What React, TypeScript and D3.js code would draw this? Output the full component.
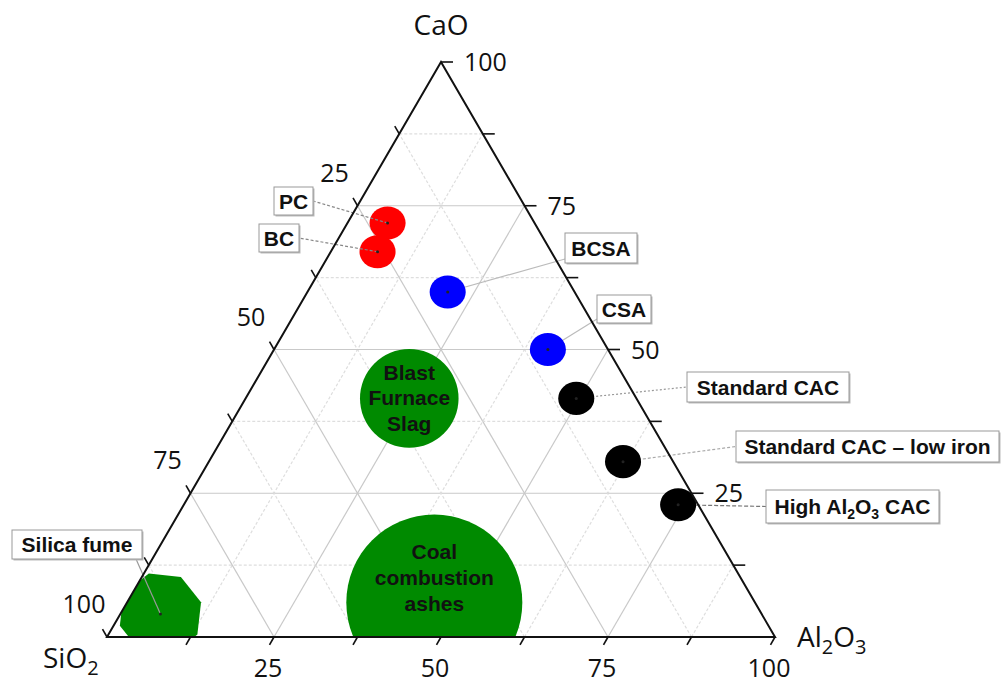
import React from "react";
import * as d3 from "d3";

// ternary compositions (wt%)
const materials = [
  "PC",
  "BC",
  "BCSA",
  "CSA",
  "Standard CAC",
  "Standard CAC – low iron",
  "High Al2O3 CAC",
  "Blast Furnace Slag",
  "Coal combustion ashes",
  "Silica fume",
];
const sio2 = [22, 26, 19, 9, 9, 7.5, 3, 34, 48, 90];
const al2o3 = [6, 7, 21, 41, 49.5, 62, 74, 24.5, 46, 6];
const cao = [72, 67, 60, 50, 41.5, 30.5, 23, 41.5, 6, 4];
const bubbleSize = [20.5, 20.5, 20.5, 20.5, 20.5, 20.5, 20.5, 56, 100, 48];
const fills = ["#ff0000", "#ff0000", "#0000ff", "#0000ff", "#000", "#000", "#000", "#008a00", "#008a00", "#008a00"];

const majorTicks = [25, 50, 75, 100];
const minorTicks = [12.5, 37.5, 62.5, 87.5];
const gridValues = [12.5, 25, 37.5, 50, 62.5, 75, 87.5];

// label boxes: [x, y, w, h], leader style
const callouts = [
  { i: 0, box: [274, 187, 39, 28], dash: "3,2", stroke: "#888", over: true },
  { i: 1, box: [259, 224, 40, 28], dash: "3,2", stroke: "#888", over: true },
  { i: 2, box: [565, 233, 72, 30], dash: null, stroke: "#bbb", over: false, corner: true },
  { i: 3, box: [597, 295, 54, 28], dash: null, stroke: "#bbb", over: false, corner: true },
  { i: 4, box: [687, 372, 162, 30], dash: "2,2", stroke: "#999", over: false },
  { i: 5, box: [736, 431, 263, 31], dash: "3,2", stroke: "#aaa", over: false },
  { i: 6, box: [766, 490, 173, 33], dash: "4,2", stroke: "#777", over: false },
  { i: 9, box: [12, 530, 130, 29], dash: null, stroke: "#999", over: true, bottom: true },
];

const x = d3.scaleLinear().domain([0, 100]).range([107, 775]);
const y = d3.scaleLinear().domain([0, 100]).range([637, 62]);
const r = d3.scaleLinear().domain([0, 100]).range([0, 88]);

const pt = (si: number, al: number, ca: number): [number, number] => {
  const s = si + al + ca;
  const a = (al / s) * 100;
  const c = (ca / s) * 100;
  return [x(a + c / 2), y(c)];
};

const tri = [pt(100, 0, 0), pt(0, 100, 0), pt(0, 0, 100)];
const line = d3.line();

const tickFont = "'Open Sans', sans-serif";
const boxFont = "'Liberation Sans', Arial, sans-serif";

function LabelText({ name }: { name: string }) {
  if (name.includes("Al2O3")) {
    const [a, b] = name.split("Al2O3");
    return (
      <>
        {a}Al<tspan fontSize={14} dy={5}>2</tspan>
        <tspan dy={-5}>O</tspan>
        <tspan fontSize={14} dy={5}>3</tspan>
        <tspan dy={-5}>{b}</tspan>
      </>
    );
  }
  return <>{name}</>;
}

export default function App() {
  const grid: { d: string; major: boolean }[] = [];
  gridValues.forEach((v) => {
    const major = v % 25 === 0;
    grid.push({ d: line([pt(100 - v, 0, v), pt(0, 100 - v, v)])!, major });
    grid.push({ d: line([pt(100 - v, v, 0), pt(0, v, 100 - v)])!, major });
    grid.push({ d: line([pt(v, 100 - v, 0), pt(v, 0, 100 - v)])!, major });
  });

  const ticks: string[] = [];
  [...majorTicks, ...minorTicks].forEach((v) => {
    const len = 9;
    const [bx, by] = pt(100 - v, v, 0);
    ticks.push(line([[bx, by], [bx - len * 0.5, by + len * 0.866]])!);
    const [rx, ry] = pt(0, 100 - v, v);
    ticks.push(line([[rx, ry], [rx + 12, ry]])!);
    const [lx, ly] = pt(v, 0, 100 - v);
    ticks.push(line([[lx, ly], [lx - len * 0.5, ly - len * 0.866]])!);
  });

  const centers = materials.map((_, i) => pt(sio2[i], al2o3[i], cao[i]));

  const leader = (c: (typeof callouts)[number]) => {
    const [bx, by, bw, bh] = c.box;
    const [cx, cy] = centers[c.i];
    let end: [number, number];
    if (c.bottom) end = [bx + bw - 6, by + bh];
    else if (c.corner) end = [bx, by + bh - 4];
    else if (cx < bx) end = [bx, by + bh / 2];
    else end = [bx + bw, by + bh / 2];
    return (
      <line
        key={"l" + c.i}
        x1={cx}
        y1={cy}
        x2={end[0]}
        y2={end[1]}
        stroke={c.stroke}
        strokeWidth={1.2}
        strokeDasharray={c.dash ?? undefined}
      />
    );
  };

  // silica fume drawn as a coarse polygon like the original
  const sfIdx = 9;
  const sfR = r(bubbleSize[sfIdx]);
  const sfPoly = d3.range(8).map((k) => {
    const a = ((-106 + k * 45) * Math.PI) / 180;
    return [centers[sfIdx][0] + sfR * Math.cos(a), centers[sfIdx][1] + sfR * Math.sin(a)] as [number, number];
  });

  const inBubble: Record<number, string[]> = {
    7: ["Blast", "Furnace", "Slag"],
    8: ["Coal", "combustion", "ashes"],
  };

  return (
    <svg width={1001} height={686} style={{ position: "absolute", left: 0, top: 0, background: "#fff" }}>
      <defs>
        <clipPath id="triClip">
          <path d={line(tri) + "Z"} />
        </clipPath>
      </defs>

      {grid.map((g, k) => (
        <path
          key={k}
          d={g.d}
          stroke={g.major ? "#c9c9c9" : "#dedede"}
          strokeWidth={1.2}
          strokeDasharray={g.major ? undefined : "3,2"}
          fill="none"
        />
      ))}

      {callouts.filter((c) => !c.over).map(leader)}

      <g clipPath="url(#triClip)">
        {materials.map((m, i) => {
          const [cx, cy] = centers[i];
          const rad = r(bubbleSize[i]);
          if (i === sfIdx) return <path key={m} d={line(sfPoly) + "Z"} fill={fills[i]} />;
          if (rad > 30) return <circle key={m} cx={cx} cy={cy} r={rad} fill={fills[i]} />;
          return <ellipse key={m} cx={cx} cy={cy} rx={rad} ry={rad * 0.92} fill={fills[i]} />;
        })}
      </g>

      {callouts.filter((c) => c.over).map(leader)}

      {materials.map((m, i) =>
        inBubble[i] ? null : <circle key={"d" + m} cx={centers[i][0]} cy={centers[i][1]} r={1.5} fill="#222" />
      )}

      {Object.entries(inBubble).map(([k, lines]) => {
        const [cx, cy] = centers[+k];
        const step = +k === 8 ? 26 : 25.5;
        return (
          <text key={"t" + k} textAnchor="middle" fontFamily={boxFont} fontWeight="bold" fontSize={21} fill="#111">
            {lines.map((s, j) => (
              <tspan key={j} x={cx} y={cy + (j - 1) * step + 7 - (+k === 8 ? 25 : 0)}>
                {s}
              </tspan>
            ))}
          </text>
        );
      })}

      <path d={line(tri) + "Z"} fill="none" stroke="#111" strokeWidth={2} strokeLinejoin="miter" />
      {ticks.map((d, k) => (
        <path key={"tk" + k} d={d} stroke="#111" strokeWidth={1.6} />
      ))}

      {majorTicks.map((v) => {
        const [bx, by] = pt(100 - v, v, 0);
        const [rx, ry] = pt(0, 100 - v, v);
        const [lx, ly] = pt(v, 0, 100 - v);
        return (
          <g key={"tl" + v} fontFamily={tickFont} fontSize={25} fill="#111">
            <text x={bx - 6} y={by + 40} textAnchor="middle">{v}</text>
            <text x={rx + 23} y={ry + 9} textAnchor="start">{v}</text>
            <text x={lx - 23} y={ly - 24} textAnchor="middle">{v}</text>
          </g>
        );
      })}

      <g fontFamily={tickFont} fontSize={28} fill="#111">
        <text x={tri[2][0]} y={35} textAnchor="middle">CaO</text>
        <text x={43} y={668}>
          SiO<tspan fontSize={20} dy={7}>2</tspan>
        </text>
        <text x={797} y={647}>
          Al<tspan fontSize={20} dy={7}>2</tspan>
          <tspan dy={-7}>O</tspan>
          <tspan fontSize={20} dy={7}>3</tspan>
        </text>
      </g>

      {callouts.map((c) => {
        const [bx, by, bw, bh] = c.box;
        return (
          <g key={"b" + c.i}>
            <rect x={bx + 1.5} y={by + 1.5} width={bw} height={bh} fill="#bbb" />
            <rect x={bx} y={by} width={bw} height={bh} fill="#fff" stroke="#999" strokeWidth={1} />
            <text
              x={bx + bw / 2}
              y={by + bh / 2 + 7.5}
              textAnchor="middle"
              fontFamily={boxFont}
              fontWeight="bold"
              fontSize={21}
              fill="#111"
            >
              <LabelText name={materials[c.i]} />
            </text>
          </g>
        );
      })}
    </svg>
  );
}
